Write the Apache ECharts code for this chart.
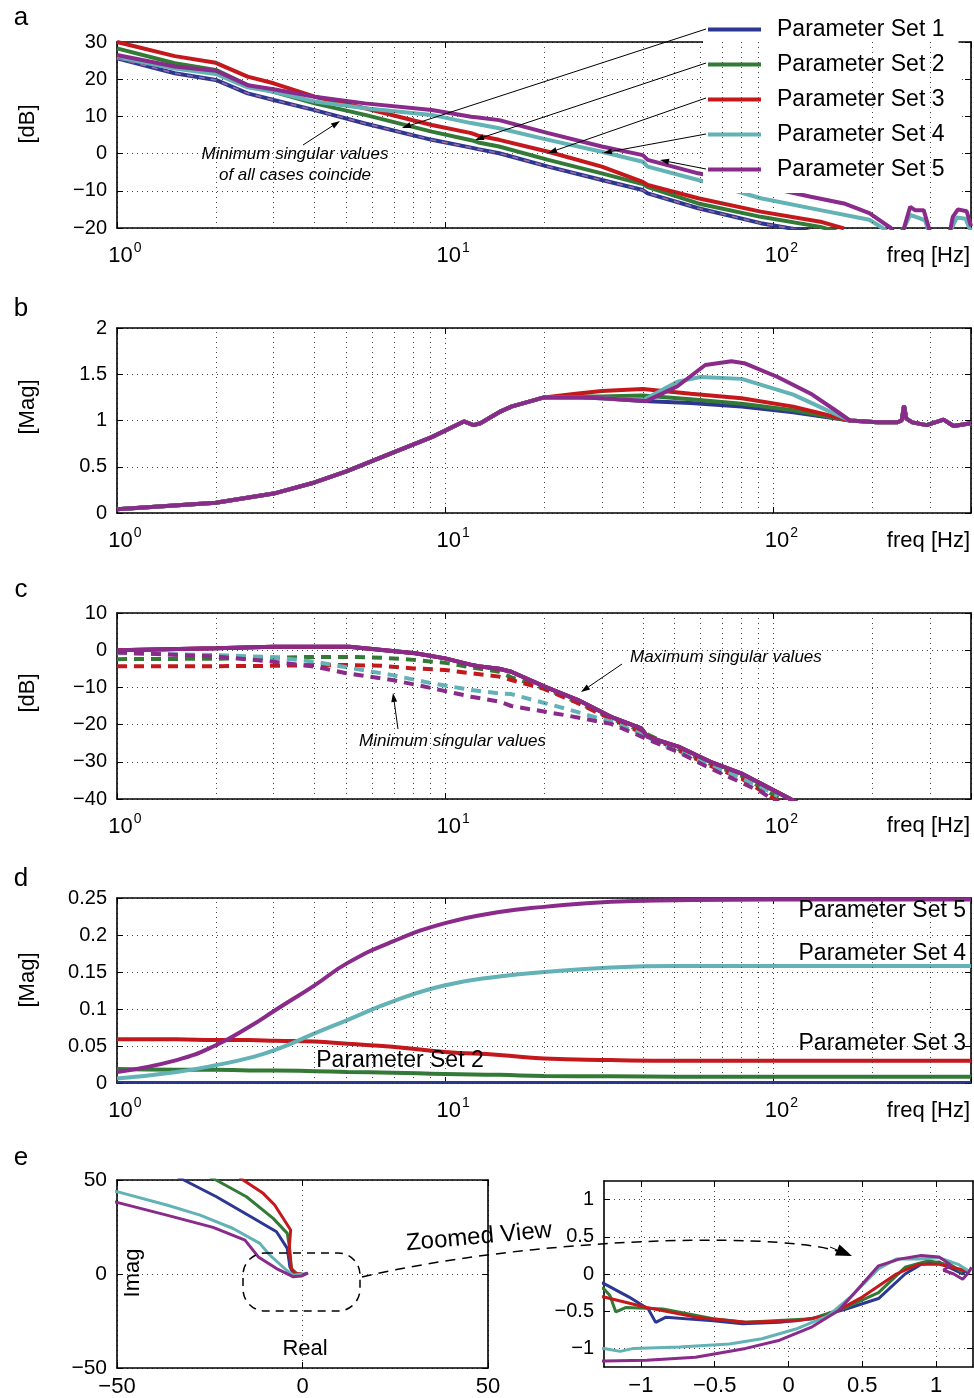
<!DOCTYPE html>
<html>
<head>
<meta charset="utf-8">
<script src="https://cdn.jsdelivr.net/npm/echarts@6/dist/echarts.min.js"></script>
<style>
  html, body { margin: 0; padding: 0; background: #fff; }
  #chart { width: 974px; height: 1398px; }
</style>
</head>
<body>
<div id="chart"></div>
<script>
var FONT = '"Liberation Sans", Arial, Helvetica, sans-serif';
var COLORS = ['#2c3792', '#337a36', '#c5181d', '#62b2b6', '#8a2a8a'];
var SET_NAMES = ['Parameter Set 1', 'Parameter Set 2', 'Parameter Set 3', 'Parameter Set 4', 'Parameter Set 5'];
var MINOR_FREQ = [2, 3, 4, 5, 6, 7, 8, 9, 20, 30, 40, 50, 60, 70, 80, 90, 200, 300];
var E_TICKS = [-1, -0.5, 0, 0.5, 1];

// panel a : maximum singular values [dB]
var FREQ_A = [1, 1.5, 2, 2.5, 3, 4, 5.7, 9.1, 12, 12.6, 14.6, 20.6, 30, 40, 41.4, 59, 91.5, 139, 164];
var A_SET1 = [25.6, 21.6, 19.8, 16.2, 14.4, 11.7, 8.1, 3.7, 1.6, 1.2, 0.1, -3.5, -7.1, -9.8, -10.7, -14.7, -18.7, -21.5, -23];
var A_SET2 = [28.3, 24.3, 22.5, 18.4, 16.6, 13.5, 10.4, 5.9, 3.6, 3.0, 1.9, -1.7, -5.3, -8.2, -9.0, -13.4, -17, -19.7, -21.5];
var A_SET3 = [30, 26.2, 24.4, 20.7, 18.9, 15.3, 12.2, 7.7, 5.5, 4.8, 3.7, 0.5, -3.5, -7.6, -8.4, -12, -15.6, -18.3, -20.1];
var FREQ_A4 = [1, 1.5, 2, 2.5, 3, 4, 5.7, 9.1, 12, 12.6, 14.6, 20.6, 30, 40, 41.4, 59, 91.5, 139, 196, 217, 235, 250, 261, 280, 290, 300, 330, 345, 362, 385, 400];
var A_SET4 = [25.9, 22.9, 21.4, 17.8, 16.6, 14.0, 12.2, 10.4, 8.2, 7.9, 6.8, 3.7, 0.5, -2.2, -3.5, -7.1, -12.0, -15.2, -17.8, -20.2, -23, -20, -16.5, -17.4, -18, -22, -24, -21, -17.2, -17.5, -21];
var FREQ_A5 = [1, 1.5, 2, 2.5, 3, 4, 5.7, 9.1, 12, 12.6, 14.6, 20.6, 30, 40, 41.4, 59, 90, 130, 164, 196, 228, 240, 250, 261, 270, 287, 300, 320, 345, 352, 365, 388, 400];
var A_SET5 = [26.5, 23.4, 22.3, 18.4, 17.3, 15.3, 13.5, 11.7, 9.9, 9.7, 9.0, 5.5, 1.9, -0.4, -1.7, -5.3, -8.5, -11.6, -13.4, -16.0, -20, -23, -20, -14.3, -15.2, -15.2, -21, -24, -21, -17, -15, -15.5, -19.5];

// panel b : [Mag]
var FREQ_B_LOW = [1, 2, 3, 4, 5, 6.9, 9.1, 11.4, 12.2, 12.8, 14.6, 15.9, 20];
var B_LOW = [0.04, 0.11, 0.21, 0.33, 0.45, 0.65, 0.82, 0.99, 0.95, 0.97, 1.09, 1.15, 1.25];
var FREQ_B_MID = [25, 30, 40, 56, 80, 115, 171];
var B1_MID = [1.25, 1.24, 1.21, 1.19, 1.15, 1.09, 1.0];
var B2_MID = [1.26, 1.26, 1.27, 1.23, 1.18, 1.11, 1.0];
var B3_MID = [1.29, 1.32, 1.34, 1.29, 1.24, 1.15, 1.0];
var FREQ_B4_MID = [25, 30, 40, 51, 60, 80, 115, 146, 171];
var B4_MID = [1.25, 1.24, 1.22, 1.42, 1.47, 1.45, 1.28, 1.11, 1.0];
var FREQ_B5_MID = [25, 30, 41, 51, 62, 74.5, 81.5, 103, 130, 156, 171];
var B5_MID = [1.25, 1.24, 1.21, 1.37, 1.6, 1.64, 1.62, 1.47, 1.29, 1.1, 1.0];
var FREQ_B_END = [207, 238, 246, 250, 254, 265, 293, 330, 354, 400];
var B_END = [0.98, 0.98, 1.0, 1.16, 1.02, 0.98, 0.95, 1.01, 0.94, 0.97];

// panel c : max (solid) and min (dashed) singular values [dB]
var FREQ_C_MAX = [1, 2, 3, 5.1, 8.1, 10, 12.1, 12.6, 14.6, 15.9, 20.1, 25.4, 32, 39.6, 41.4, 51.3, 64.3, 79.7, 112, 130];
var C_MAX = [0, 0.5, 0.9, 0.9, -0.8, -2.2, -4.0, -4.3, -5.0, -5.8, -9.8, -13.4, -17.9, -21, -23.3, -25.9, -30, -33.1, -39.9, -43];
var FREQ_C_MIN = [1, 2, 3, 4, 5, 6.4, 8, 10, 12, 14.6, 15.9, 20, 25, 32, 40, 51, 64, 80, 105];
var C2_MIN = [-2.4, -2.3, -2.0, -1.8, -1.8, -2.0, -2.6, -3.4, -4.6, -5.8, -7.3, -10.2, -13.8, -18.3, -22, -26.5, -30.5, -33.8, -40];
var C3_MIN = [-4.3, -4.3, -4.2, -4.0, -4.0, -4.2, -4.9, -5.3, -6.2, -7.1, -8.0, -10.4, -14, -18.5, -22.3, -26.8, -31, -34.5, -41];
var FREQ_C_MIN45 = [1, 2, 3, 4, 5, 6.9, 9.1, 12, 14.6, 15.9, 23, 32, 38, 41.4, 51, 64, 91.5, 103];
var C4_MIN = [-0.8, -1.3, -1.9, -3.1, -4.6, -6.7, -8.9, -10.7, -11.6, -11.8, -15.6, -19.2, -21.9, -23.5, -27.2, -30.6, -36.7, -39.2];
var C5_MIN = [-0.6, -1.7, -3.1, -4.4, -6.2, -8.0, -10.2, -12.5, -13.8, -15, -17.4, -19.8, -22.5, -24, -27.3, -31.7, -38, -41];

// panel d : [Mag]
var FREQ_D = [1, 1.52, 2, 2.53, 3.05, 4, 5.03, 6.9, 10, 14.6, 20, 32, 51, 100, 400];
var D1 = [0.001, 0.001, 0.001, 0.001, 0.001, 0.001, 0.001, 0.001, 0.001, 0.001, 0.001, 0.001, 0.001, 0.001, 0.001];
var D2 = [0.019, 0.018, 0.018, 0.017, 0.017, 0.016, 0.015, 0.014, 0.012, 0.011, 0.0095, 0.009, 0.0085, 0.0085, 0.0085];
var D3 = [0.059, 0.059, 0.058, 0.058, 0.057, 0.056, 0.053, 0.049, 0.042, 0.038, 0.033, 0.031, 0.030, 0.030, 0.030];
var D4 = [0.006, 0.015, 0.024, 0.034, 0.045, 0.067, 0.085, 0.110, 0.132, 0.144, 0.150, 0.156, 0.158, 0.158, 0.158];
var D5 = [0.015, 0.031, 0.051, 0.076, 0.099, 0.132, 0.162, 0.191, 0.216, 0.231, 0.238, 0.245, 0.247, 0.248, 0.248];

// panel e : Nyquist [real, imag]
var E_LEFT1 = [[-42, 60], [-32, 50], [-23.2, 41.1], [-12.4, 28.7], [-7, 22.5], [-4.1, 13.6], [-3.4, 3.8], [-2.5, 0.3], [-0.7, -0.6], [1.1, 0.3]];
var E_LEFT2 = [[-33, 60], [-23.3, 50], [-15.1, 41.1], [-7.9, 29.6], [-4.1, 21.6], [-3.4, 12.7], [-3, 2.9], [-1.6, 0.3], [0, 0]];
var E_LEFT3 = [[-22, 60], [-16, 50], [-10.6, 42.9], [-7.5, 36.7], [-3.2, 23.4], [-3.6, 12.7], [-3.0, 2.9], [-2.1, 0.3], [-0.3, 0]];
var E_LEFT4 = [[-60, 47], [-50, 43.8], [-36.6, 36.7], [-27.6, 31.3], [-18.7, 24.2], [-11.5, 16.3], [-8.8, 10], [-4.3, 2], [-2.5, -0.6], [0, 0]];
var E_LEFT5 = [[-60, 41], [-50, 38.1], [-36.6, 31.3], [-24.1, 24.8], [-15.5, 18], [-11.9, 9.1], [-7, 2.9], [-3.4, -0.6], [-2.5, -1.5], [-0.3, -1.1], [1.5, 0.6]];
var E_RIGHT1 = [[-1.3, -0.1], [-1.25, -0.13], [-1.08, -0.31], [-0.95, -0.47], [-0.9, -0.65], [-0.83, -0.58], [-0.51, -0.63], [-0.31, -0.67], [-0.06, -0.65], [0.16, -0.6], [0.39, -0.47], [0.61, -0.33], [0.79, 0], [0.9, 0.13], [1.02, 0.16], [1.11, 0.07], [1.18, 0], [1.2, 0.05], [1.22, 0.0]];
var E_RIGHT2 = [[-1.3, -0.17], [-1.25, -0.2], [-1.21, -0.29], [-1.17, -0.51], [-1.1, -0.45], [-0.85, -0.47], [-0.51, -0.6], [-0.29, -0.65], [0.16, -0.6], [0.39, -0.45], [0.61, -0.25], [0.79, 0.09], [0.95, 0.18], [1.11, 0.11], [1.18, 0.02]];
var E_RIGHT3 = [[-1.3, -0.3], [-1.25, -0.31], [-0.96, -0.45], [-0.63, -0.58], [-0.29, -0.65], [0.05, -0.63], [0.27, -0.56], [0.5, -0.31], [0.73, 0], [0.88, 0.13], [1.02, 0.13], [1.15, 0.07], [1.21, 0.04]];
var E_RIGHT4 = [[-1.3, -1.0], [-1.25, -1.0], [-1.14, -1.04], [-1.05, -1.0], [-0.74, -0.98], [-0.4, -0.94], [-0.18, -0.87], [0.05, -0.74], [0.27, -0.56], [0.43, -0.29], [0.61, 0.07], [0.73, 0.2], [0.88, 0.2], [1.02, 0.22], [1.15, 0.13], [1.22, 0.04]];
var E_RIGHT5 = [[-1.3, -1.17], [-1.25, -1.17], [-0.96, -1.16], [-0.63, -1.12], [-0.29, -1.0], [-0.06, -0.89], [0.16, -0.71], [0.34, -0.49], [0.45, -0.25], [0.61, 0.11], [0.75, 0.2], [0.9, 0.25], [1.02, 0.23], [1.1, 0.12], [1.05, 0.05], [1.12, 0.0], [1.18, -0.07], [1.22, 0.02], [1.24, 0.09]];

function zip(xs, ys) {
  return xs.map(function (x, i) { return [x, ys[i]]; });
}
function minus(v) {
  return String(+(+v).toFixed(4)).replace('-', '\u2212');
}
function powLabel(v) {
  var e = Math.log10(v);
  if (Math.abs(e - Math.round(e)) > 1e-6) return '';
  return '{b|10}{s|' + Math.round(e) + '}';
}

var frameLine = { show: true, onZero: false, lineStyle: { color: '#000', width: 1.6 } };
var dotted = { color: '#444', type: [1, 4], width: 1 };

var grid = [
  { left: 117, top: 42, width: 856, height: 186 },
  { left: 117, top: 328, width: 856, height: 185 },
  { left: 117, top: 613, width: 856, height: 186 },
  { left: 117, top: 898, width: 856, height: 185 },
  { left: 117, top: 1180, width: 371, height: 188 },
  { left: 604, top: 1181, width: 369, height: 186 }
];

var xAxis = [];
var yAxis = [];

function freqAxes(g) {
  [false, true].forEach(function (mirror) {
    xAxis.push({
      type: 'log', logBase: 10, min: 1, max: 400, gridIndex: g,
      position: mirror ? 'top' : 'bottom',
      axisLine: frameLine,
      axisTick: { show: true, inside: true, length: 6, lineStyle: { color: '#000' } },
      axisLabel: mirror ? { show: false } : {
        show: true, margin: 13, color: '#000', fontFamily: FONT,
        formatter: powLabel,
        rich: {
          b: { fontSize: 22, fontFamily: FONT, color: '#000', verticalAlign: 'bottom', padding: [0, 0, 0, 16] },
          s: { fontSize: 14, fontFamily: FONT, color: '#000', verticalAlign: 'top', padding: [0, 0, 12, 1] }
        }
      },
      splitLine: { show: !mirror, lineStyle: dotted }
    });
  });
}

function valAxes(list, g, dir, min, max, interval, labelSize, custom) {
  [false, true].forEach(function (mirror) {
    var ax = {
      type: 'value', gridIndex: g, min: min, max: max, interval: interval,
      position: dir === 'x' ? (mirror ? 'top' : 'bottom') : (mirror ? 'right' : 'left'),
      axisLine: frameLine,
      axisTick: { show: true, inside: true, length: 6, lineStyle: { color: '#000' } },
      axisLabel: mirror ? { show: false } : {
        show: true, margin: dir === 'x' ? 8 : 10, fontSize: labelSize, color: '#000',
        fontFamily: FONT, formatter: minus
      },
      splitLine: { show: !mirror, lineStyle: dotted }
    };
    if (custom) {
      ax.axisTick.customValues = custom;
      ax.axisLabel.customValues = custom;
    }
    list.push(ax);
  });
}

freqAxes(0); valAxes(yAxis, 0, 'y', -20, 30, 10, 20);
freqAxes(1); valAxes(yAxis, 1, 'y', 0, 2, 0.5, 20);
freqAxes(2); valAxes(yAxis, 2, 'y', -40, 10, 10, 20);
freqAxes(3); valAxes(yAxis, 3, 'y', 0, 0.25, 0.05, 20);
valAxes(xAxis, 4, 'x', -50, 50, 50, 22); valAxes(yAxis, 4, 'y', -50, 50, 50, 21);
valAxes(xAxis, 5, 'x', -1.25, 1.25, 0.25, 22, E_TICKS); valAxes(yAxis, 5, 'y', -1.25, 1.25, 0.25, 20, E_TICKS);

function line(name, g, data, color, extra) {
  var s = {
    name: name, type: 'line', xAxisIndex: 2 * g, yAxisIndex: 2 * g, data: data,
    symbol: 'none', showSymbol: false, silent: true, clip: true,
    lineStyle: { color: color, width: 4 }, itemStyle: { color: color }
  };
  if (extra) {
    if (extra.dash) s.lineStyle.type = extra.dash;
    if (extra.width) s.lineStyle.width = extra.width;
    if (extra.smooth) s.smooth = extra.smooth;
  }
  return s;
}

function minorGrid(g) {
  return {
    type: 'line', xAxisIndex: 2 * g, yAxisIndex: 2 * g, data: [], silent: true,
    markLine: {
      silent: true, symbol: ['none', 'none'], label: { show: false },
      lineStyle: dotted, emphasis: { disabled: true },
      data: MINOR_FREQ.map(function (v) { return { xAxis: v }; })
    }
  };
}

var DASH = [10, 7];
var series = [
  minorGrid(0), minorGrid(1), minorGrid(2), minorGrid(3),
  // a
  line(SET_NAMES[0], 0, zip(FREQ_A, A_SET1), COLORS[0]),
  line(SET_NAMES[1], 0, zip(FREQ_A, A_SET2), COLORS[1]),
  line(SET_NAMES[2], 0, zip(FREQ_A, A_SET3), COLORS[2]),
  line(SET_NAMES[3], 0, zip(FREQ_A4, A_SET4), COLORS[3]),
  line(SET_NAMES[4], 0, zip(FREQ_A5, A_SET5), COLORS[4]),
  line('min a', 0, zip(FREQ_A, A_SET1), '#9a6aa0', { dash: [6, 6], width: 1.6 }),
  // b
  line(SET_NAMES[0], 1, zip(FREQ_B_LOW, B_LOW).concat(zip(FREQ_B_MID, B1_MID), zip(FREQ_B_END, B_END)), COLORS[0]),
  line(SET_NAMES[1], 1, zip(FREQ_B_LOW, B_LOW).concat(zip(FREQ_B_MID, B2_MID), zip(FREQ_B_END, B_END)), COLORS[1]),
  line(SET_NAMES[2], 1, zip(FREQ_B_LOW, B_LOW).concat(zip(FREQ_B_MID, B3_MID), zip(FREQ_B_END, B_END)), COLORS[2]),
  line(SET_NAMES[3], 1, zip(FREQ_B_LOW, B_LOW).concat(zip(FREQ_B4_MID, B4_MID), zip(FREQ_B_END, B_END)), COLORS[3]),
  line(SET_NAMES[4], 1, zip(FREQ_B_LOW, B_LOW).concat(zip(FREQ_B5_MID, B5_MID), zip(FREQ_B_END, B_END)), COLORS[4]),
  // c
  line(SET_NAMES[1], 2, zip(FREQ_C_MIN, C2_MIN), COLORS[1], { dash: DASH }),
  line(SET_NAMES[2], 2, zip(FREQ_C_MIN, C3_MIN), COLORS[2], { dash: DASH }),
  line(SET_NAMES[3], 2, zip(FREQ_C_MIN45, C4_MIN), COLORS[3], { dash: DASH }),
  line(SET_NAMES[4], 2, zip(FREQ_C_MIN45, C5_MIN), COLORS[4], { dash: DASH }),
  line(SET_NAMES[0], 2, zip(FREQ_C_MAX, C_MAX), COLORS[0]),
  line(SET_NAMES[2], 2, zip(FREQ_C_MAX, C_MAX), COLORS[2]),
  line(SET_NAMES[4], 2, zip(FREQ_C_MAX, C_MAX), COLORS[4]),
  // d
  line(SET_NAMES[0], 3, zip(FREQ_D, D1), COLORS[0], { width: 2.5 }),
  line(SET_NAMES[1], 3, zip(FREQ_D, D2), COLORS[1], { smooth: 0.5 }),
  line(SET_NAMES[2], 3, zip(FREQ_D, D3), COLORS[2], { smooth: 0.5 }),
  line(SET_NAMES[3], 3, zip(FREQ_D, D4), COLORS[3], { smooth: 0.5 }),
  line(SET_NAMES[4], 3, zip(FREQ_D, D5), COLORS[4], { smooth: 0.5 }),
  // e left
  line(SET_NAMES[0], 4, E_LEFT1, COLORS[0], { width: 3 }),
  line(SET_NAMES[1], 4, E_LEFT2, COLORS[1], { width: 3 }),
  line(SET_NAMES[2], 4, E_LEFT3, COLORS[2], { width: 3 }),
  line(SET_NAMES[3], 4, E_LEFT4, COLORS[3], { width: 3 }),
  line(SET_NAMES[4], 4, E_LEFT5, COLORS[4], { width: 3 }),
  // e right
  line(SET_NAMES[0], 5, E_RIGHT1, COLORS[0], { width: 3 }),
  line(SET_NAMES[1], 5, E_RIGHT2, COLORS[1], { width: 3 }),
  line(SET_NAMES[2], 5, E_RIGHT3, COLORS[2], { width: 3 }),
  line(SET_NAMES[3], 5, E_RIGHT4, COLORS[3], { width: 3 }),
  line(SET_NAMES[4], 5, E_RIGHT5, COLORS[4], { width: 3 })
];

function txt(x, y, text, size, o) {
  o = o || {};
  return {
    type: 'text', x: x, y: y, rotation: o.rot || 0, z: 30, silent: true,
    style: {
      text: text, fontSize: size, fontFamily: FONT, fontStyle: o.italic ? 'italic' : 'normal',
      fill: '#000', align: o.align || 'center', verticalAlign: 'middle'
    }
  };
}
function arrow(x1, y1, x2, y2, head, half) {
  var ang = Math.atan2(y2 - y1, x2 - x1);
  var h = head || 9, w = half || 3;
  var bx = x2 - h * Math.cos(ang), by = y2 - h * Math.sin(ang);
  var px = -Math.sin(ang) * w, py = Math.cos(ang) * w;
  return [
    { type: 'line', z: 30, silent: true, shape: { x1: x1, y1: y1, x2: bx, y2: by }, style: { stroke: '#000', lineWidth: 1 } },
    { type: 'polygon', z: 30, silent: true, shape: { points: [[x2, y2], [bx + px, by + py], [bx - px, by - py]] }, style: { fill: '#000' } }
  ];
}

var graphic = [
  txt(21, 18, 'a', 26), txt(21, 309, 'b', 26), txt(21, 590, 'c', 26), txt(21, 879, 'd', 26), txt(21, 1158, 'e', 26),
  txt(28, 124, '[dB]', 22, { rot: Math.PI / 2 }),
  txt(28, 407, '[Mag]', 22, { rot: Math.PI / 2 }),
  txt(28, 693, '[dB]', 22, { rot: Math.PI / 2 }),
  txt(28, 980, '[Mag]', 22, { rot: Math.PI / 2 }),
  txt(970, 256, 'freq [Hz]', 22, { align: 'right' }),
  txt(970, 541, 'freq [Hz]', 22, { align: 'right' }),
  txt(970, 826, 'freq [Hz]', 22, { align: 'right' }),
  txt(970, 1111, 'freq [Hz]', 22, { align: 'right' }),
  txt(295, 154, 'Minimum singular values', 17, { italic: true }),
  txt(295, 175, 'of all cases coincide', 17, { italic: true }),
  txt(630, 657, 'Maximum singular values', 17, { italic: true, align: 'left' }),
  txt(359, 741, 'Minimum singular values', 17, { italic: true, align: 'left' }),
  txt(966, 911, 'Parameter Set 5', 23, { align: 'right' }),
  txt(966, 954, 'Parameter Set 4', 23, { align: 'right' }),
  txt(966, 1044, 'Parameter Set 3', 23, { align: 'right' }),
  txt(400, 1061, 'Parameter Set 2', 23),
  txt(133, 1273, 'Imag', 22, { rot: Math.PI / 2 }),
  txt(305, 1349, 'Real', 22),
  txt(479, 1237, 'Zoomed View', 24, { rot: 0.09 }),
  {
    type: 'rect', z: 30, silent: true, shape: { x: 243, y: 1253, width: 117, height: 58, r: 22 },
    style: { fill: 'none', stroke: '#000', lineWidth: 1.5, lineDash: [8, 6] }
  },
  {
    type: 'bezierCurve', z: 30, silent: true,
    shape: { x1: 362, y1: 1277, cpx1: 520, cpy1: 1240, cpx2: 760, cpy2: 1230, x2: 838, y2: 1251 },
    style: { stroke: '#000', lineWidth: 1.5, lineDash: [10, 7], fill: 'none' }
  }
];
graphic = graphic.concat(
  arrow(706, 29, 402, 128), arrow(706, 63, 475, 140), arrow(706, 98, 548, 153),
  arrow(706, 134, 603, 153), arrow(706, 169, 660, 160),
  arrow(303, 145, 340, 121),
  arrow(622, 664, 581, 692), arrow(398, 729, 393, 693),
  arrow(830, 1247, 852, 1256, 16, 6)
);

var chart = echarts.init(document.getElementById('chart'), null, { renderer: 'canvas' });
chart.setOption({
  animation: false,
  backgroundColor: '#fff',
  textStyle: { fontFamily: FONT },
  legend: {
    data: SET_NAMES, orient: 'vertical', left: 703, top: 0, icon: 'rect',
    itemWidth: 53, itemHeight: 4, itemGap: 12, backgroundColor: '#fff',
    padding: [18, 14, 12, 5], selectedMode: false,
    textStyle: { fontSize: 23, fontFamily: FONT, color: '#000', lineHeight: 22, padding: [0, 0, 0, 11] }
  },
  grid: grid,
  xAxis: xAxis,
  yAxis: yAxis,
  series: series,
  graphic: graphic
});
</script>
</body>
</html>
